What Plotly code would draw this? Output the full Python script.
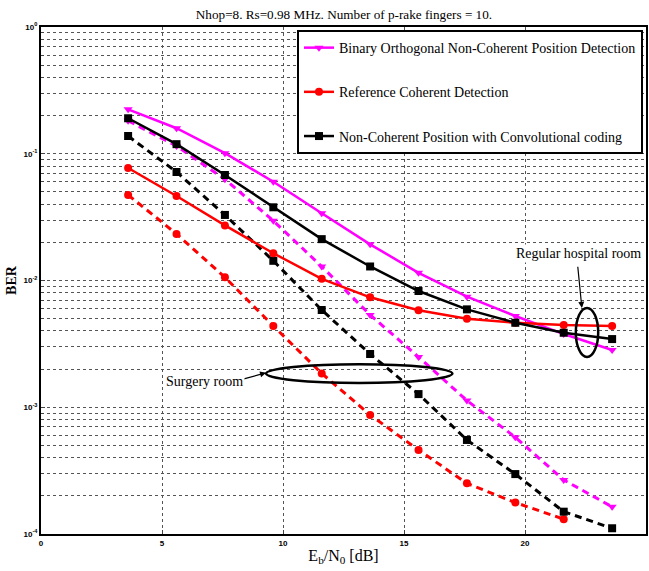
import plotly.graph_objects as go

# ---- data ----
ebn0 = [3.6, 5.6, 7.6, 9.6, 11.6, 13.6, 15.6, 17.6, 19.6, 21.6, 23.6]

bo_regular = [0.224, 0.159, 0.101, 0.0602, 0.0339, 0.0193, 0.0115, 0.00745, 0.00525, 0.00378, 0.00283]
bo_surgery = [0.182, 0.115, 0.0629, 0.0296, 0.0129, 0.00535, 0.00249, 0.00113, 0.00058, 0.000267, 0.000164]

ref_regular = [0.0772, 0.0464, 0.0272, 0.0164, 0.0103, 0.00737, 0.00582, 0.0050, 0.00464, 0.00445, 0.00438]
ref_surgery = [0.0473, 0.0233, 0.0106, 0.00438, 0.00185, 0.00087, 0.00046, 0.000251, 0.000177, 0.000131]

conv_regular = [0.1905, 0.119, 0.068, 0.0378, 0.0212, 0.0129, 0.00826, 0.00592, 0.00464, 0.00387, 0.00345]
conv_surgery = [0.138, 0.0718, 0.0329, 0.0143, 0.00585, 0.00263, 0.00127, 0.000552, 0.000297, 0.00015, 0.000111]

names = ["Binary Orthogonal Non-Coherent Position Detection",
         "Reference Coherent Detection",
         "Non-Coherent Position with Convolutional coding"]

title_text = "Nhop=8. Rs=0.98 MHz. Number of p-rake fingers = 10."
y_tickvals = [1, 0.1, 0.01, 0.001, 0.0001]
y_ticktext = ["10<sup>0</sup>", "10<sup>-1</sup>", "10<sup>-2</sup>", "10<sup>-3</sup>", "10<sup>-4</sup>"]
x_tickvals = [0, 5, 10, 15, 20, 25]

SERIF = "Liberation Serif"
SANS = "Liberation Sans"

series = [
    (names[0], "#FF00FF", "triangle-down", bo_regular, bo_surgery),
    (names[1], "#FF0000", "circle", ref_regular, ref_surgery),
    (names[2], "#000000", "square", conv_regular, conv_surgery),
]

fig = go.Figure()
for name, color, sym, reg, sur in series:
    fig.add_trace(go.Scatter(
        x=ebn0[:len(sur)], y=sur, mode="lines+markers", name=name, legendgroup=name,
        showlegend=False,
        line=dict(color=color, width=3, dash="7px,5px"),
        marker=dict(symbol=sym, size=8, color=color)))
for name, color, sym, reg, sur in series:
    fig.add_trace(go.Scatter(
        x=ebn0[:len(reg)], y=reg, mode="lines+markers", name=name, legendgroup=name,
        line=dict(color=color, width=2.5),
        marker=dict(symbol=sym, size=8, color=color)))

minor_vals = [m * 10 ** e for e in range(-4, 0) for m in range(2, 10)]

fig.update_layout(
    width=649, height=571,
    margin=dict(l=41, r=1, t=27, b=37),
    paper_bgcolor="white", plot_bgcolor="white",
    title=dict(text=title_text, x=0.53, xanchor="center", y=0.974, yanchor="middle",
               font=dict(family=SERIF, size=13.2, color="black")),
    showlegend=True,
    legend=dict(x=0.995, xanchor="right", y=0.994, yanchor="top",
                bgcolor="white", bordercolor="black", borderwidth=2,
                font=dict(family=SERIF, size=14, color="black"),
                tracegroupgap=23, itemwidth=30),
    xaxis=dict(range=[0, 25], tickvals=x_tickvals, ticks="inside", ticklen=4,
               showline=True, linecolor="black", linewidth=2, mirror=True,
               showgrid=True, gridcolor="#555", griddash="dot", gridwidth=1,
               zeroline=False,
               tickfont=dict(family=SANS, size=8, color="black", weight="bold"),
               title=dict(text="E<sub>b</sub>/N<sub>0</sub> [dB]", standoff=3,
                          font=dict(family=SERIF, size=16, color="black"))),
    yaxis=dict(type="log", range=[-4, 0], tickvals=y_tickvals, ticktext=y_ticktext,
               ticks="inside", ticklen=4,
               showline=True, linecolor="black", linewidth=2, mirror=True,
               showgrid=True, gridcolor="#555", griddash="dot", gridwidth=1,
               minor=dict(tickmode="array", tickvals=minor_vals, showgrid=True,
                          gridcolor="#555", griddash="dot", gridwidth=1,
                          ticks="inside", ticklen=3),
               tickfont=dict(family=SANS, size=8, color="black", weight="bold"),
               title=dict(text="BER", standoff=4,
                          font=dict(family=SERIF, size=14, color="black", weight="bold"))),
)

# ellipses (in axis-domain coordinates)
fig.add_shape(type="circle", xref="x domain", yref="y domain",
              x0=0.884, x1=0.921, y0=0.349, y1=0.446,
              line=dict(color="black", width=2.5))
fig.add_shape(type="circle", xref="x domain", yref="y domain",
              x0=0.372, x1=0.680, y0=0.298, y1=0.335,
              line=dict(color="black", width=2.5))

fig.add_annotation(xref="x domain", yref="y domain", x=0.894, y=0.446,
                   ax=0.887, ay=0.53, axref="x domain", ayref="y domain",
                   showarrow=True, arrowhead=2, arrowsize=1, arrowwidth=1.2,
                   arrowcolor="black", text="")
fig.add_annotation(xref="x domain", yref="y domain", x=0.888, y=0.553,
                   xanchor="center", yanchor="middle",
                   text="Regular hospital room", showarrow=False,
                   font=dict(family=SERIF, size=14, color="black"),
                   bgcolor="white")
fig.add_annotation(xref="x domain", yref="y domain", x=0.372, y=0.318,
                   ax=0.333, ay=0.305, axref="x domain", ayref="y domain",
                   showarrow=True, arrowhead=2, arrowsize=1, arrowwidth=1.2,
                   arrowcolor="black", text="")
fig.add_annotation(xref="x domain", yref="y domain", x=0.271, y=0.300,
                   xanchor="center", yanchor="middle",
                   text="Surgery room", showarrow=False,
                   font=dict(family=SERIF, size=14, color="black"),
                   bgcolor="white")

fig.write_html("out.html", config={"displayModeBar": False},
               post_script="document.body.style.margin='0';")
